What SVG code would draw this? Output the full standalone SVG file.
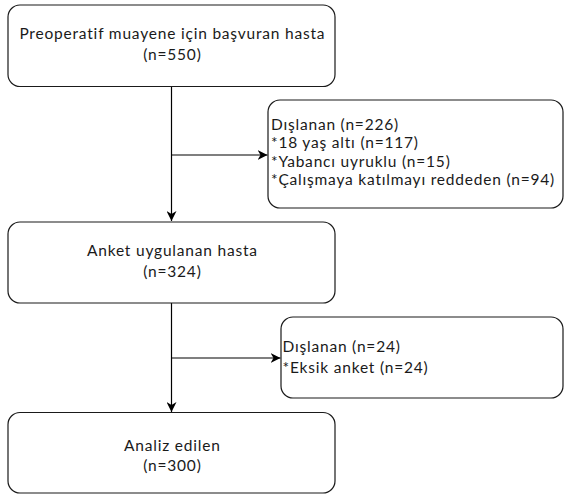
<svg xmlns="http://www.w3.org/2000/svg" width="564" height="494" viewBox="0 0 564 494">
<style>
.box{fill:#fff;stroke:#1a1a1a;stroke-width:1.2}
.t{font-family:Lato,"Open Sans",sans-serif;font-size:15.5px;letter-spacing:0.8px;fill:#1a1a1a}
.c{text-anchor:middle}
.ln{fill:none;stroke:#000;stroke-width:1.2}
</style>
<defs>
<marker id="ah" viewBox="0 0 10 10" refX="10" refY="5" markerWidth="10" markerHeight="10" markerUnits="userSpaceOnUse" orient="auto">
<path d="M0,0 L10,5 L0,10 L3,5 Z" fill="#000"/>
</marker>
</defs>
<g id="connectors">
<path class="ln" d="M171.5,86.5 V221" marker-end="url(#ah)"/>
<path class="ln" d="M171.5,155 H267.5" marker-end="url(#ah)"/>
<path class="ln" d="M171.5,303 V412" marker-end="url(#ah)"/>
<path class="ln" d="M171.5,358 H280.5" marker-end="url(#ah)"/>
</g>
<g id="n1">
<rect class="box" x="8" y="5" width="327" height="81.5" rx="12"/>
<text class="t c" x="172.4" y="38.5">Preoperatif muayene için başvuran hasta</text>
<text class="t c" x="172.4" y="60">(n=550)</text>
</g>
<g id="n2">
<rect class="box" x="268" y="100" width="295" height="108" rx="12"/>
<text class="t" x="271" y="129.5">Dışlanan (n=226)</text>
<text class="t" x="271" y="148.1">*18 yaş altı (n=117)</text>
<text class="t" x="271" y="166.7">*Yabancı uyruklu (n=15)</text>
<text class="t" x="271" y="185.3">*Çalışmaya katılmayı reddeden (n=94)</text>
</g>
<g id="n3">
<rect class="box" x="8" y="222" width="327" height="81" rx="12"/>
<text class="t c" x="172.4" y="255.7">Anket uygulanan hasta</text>
<text class="t c" x="172.4" y="276.7">(n=324)</text>
</g>
<g id="n4">
<rect class="box" x="281" y="317" width="282" height="81" rx="12"/>
<text class="t" x="282.5" y="351.7">Dışlanan (n=24)</text>
<text class="t" x="282.5" y="372.7">*Eksik anket (n=24)</text>
</g>
<g id="n5">
<rect class="box" x="8" y="412.5" width="327" height="80.5" rx="12"/>
<text class="t c" x="172.4" y="451">Analiz edilen</text>
<text class="t c" x="172.4" y="471">(n=300)</text>
</g>
</svg>
